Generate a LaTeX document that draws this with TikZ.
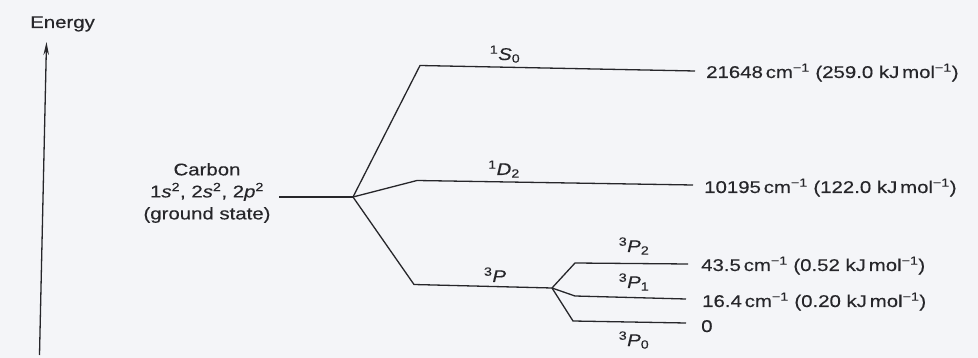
\documentclass[tikz,border=0pt]{standalone}
\usepackage{fontspec}
\setmainfont{Liberation Sans}[FakeStretch=1.2, FakeBold=0.3]
\usetikzlibrary{arrows.meta}

\definecolor{paper}{RGB}{244,245,248}
\definecolor{ink}{RGB}{38,38,42}

% superscript / subscript helpers
\newcommand{\upidx}[1]{\textsuperscript{#1}}
\newcommand{\dnidx}[1]{\textsubscript{#1}}
\newcommand{\wn}{\upidx{−1}}

\tikzset{
  level/.style={draw=ink, line width=1.3pt, line join=miter},
  txt/.style={inner sep=0pt, text=ink, font=\fontsize{17}{22}\selectfont},
  term/.style={txt, anchor=base},
  value/.style={txt, anchor=base west},
}

\begin{document}
\begin{tikzpicture}[x=1pt, y=-1pt]
  \fill[paper] (0,0) rectangle (978,358);
  \useasboundingbox (0,0) rectangle (978,358);

  % energy axis
  \node[value] (energy) at (30,28) {Energy};
  \coordinate (ebot) at (39.5,355);
  \coordinate (etop) at (46.5,42);
  \draw[ink, line width=1.3pt, -{Stealth[length=13pt,width=5.5pt]}] (ebot) -- (etop);

  % ground configuration
  \node[txt, align=center] (carbon) at (207,193)
    {Carbon\\1\textit{s}\upidx{2}, 2\textit{s}\upidx{2}, 2\textit{p}\upidx{2}\\(ground state)};
  \coordinate (g0) at (279,197);
  \coordinate (gb) at (353,197);

  % terms
  \coordinate (s0a) at (420,65.5);  \coordinate (s0b) at (695,71);
  \coordinate (d2a) at (417,180.5); \coordinate (d2b) at (693,185);
  \coordinate (pa)  at (414,284.5); \coordinate (pb)  at (552,288);

  % 3P levels
  \coordinate (p2a) at (575,263); \coordinate (p2b) at (688,264);
  \coordinate (p1a) at (575,296); \coordinate (p1b) at (686,299);
  \coordinate (p0a) at (573,321); \coordinate (p0b) at (686,323);

  \draw[level] (g0) -- (gb);
  \draw[level] (gb) -- (s0a) -- (s0b);
  \draw[level] (gb) -- (d2a) -- (d2b);
  \draw[level] (gb) -- (pa) -- (pb);
  \draw[level] (pb) -- (p2a) -- (p2b);
  \draw[level] (pb) -- (p1a) -- (p1b);
  \draw[level] (pb) -- (p0a) -- (p0b);

  % term symbols
  \node[term] (tS0) at (505,60)  {\upidx{1}\textit{S}\dnidx{0}};
  \node[term] (tD2) at (504,175) {\upidx{1}\textit{D}\dnidx{2}};
  \node[term] (tP)  at (495,282) {\upidx{3}\textit{P}};
  \node[term] (tP2) at (634,252) {\upidx{3}\textit{P}\dnidx{2}};
  \node[term] (tP1) at (634,288) {\upidx{3}\textit{P}\dnidx{1}};
  \node[term] (tP0) at (634,346) {\upidx{3}\textit{P}\dnidx{0}};

  % energies
  \node[value] (vS0) at (706,78)  {21648\,cm\wn\ (259.0 kJ\,mol\wn)};
  \node[value] (vD2) at (704,193) {10195\,cm\wn\ (122.0 kJ\,mol\wn)};
  \node[value] (vP2) at (701,271) {43.5\,cm\wn\ (0.52 kJ\,mol\wn)};
  \node[value] (vP1) at (702,307) {16.4\,cm\wn\ (0.20 kJ\,mol\wn)};
  \node[value] (vP0) at (701,332) {0};
\end{tikzpicture}
\end{document}
